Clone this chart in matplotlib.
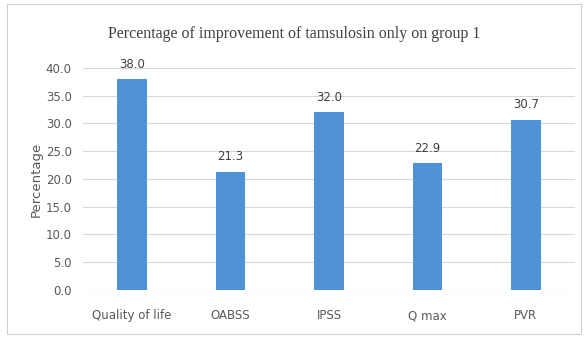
import matplotlib
matplotlib.use("Agg")
import matplotlib.pyplot as plt
from matplotlib.patches import Rectangle

categories = ["Quality of life", "OABSS", "IPSS", "Q max", "PVR"]
values = [38.0, 21.3, 32.0, 22.9, 30.7]
yticks = [0, 5, 10, 15, 20, 25, 30, 35, 40]

BAR = "#4f92d8"
GRID = "#d9d9d9"
TEXT = "#595959"

fig = plt.figure(figsize=(5.88, 3.38), dpi=100)
fig.patch.set_facecolor("white")
ax = fig.add_axes([0.141, 0.142, 0.837, 0.657])

x = range(len(categories))
ax.bar(x, values, width=0.3, color=BAR, zorder=3)
for xi, v in zip(x, values):
    ax.annotate(f"{v:.1f}", (xi, v), xytext=(0, 6), textcoords="offset points",
                ha="center", va="bottom", fontsize=8.5, color="#404040")

ax.set_xlim(-0.5, len(categories) - 0.5)
ax.set_ylim(0, 40)
ax.set_yticks(yticks)
ax.set_yticklabels([f"{t:.1f}" for t in yticks])
ax.set_xticks(list(x))
ax.set_xticklabels(categories)
ax.tick_params(axis="both", length=0, labelsize=8.5, colors=TEXT)
ax.tick_params(axis="x", pad=14)
ax.tick_params(axis="y", pad=8)
ax.yaxis.grid(True, color=GRID, linewidth=0.8, zorder=0)
for s in ax.spines.values():
    s.set_visible(False)
ax.axhline(0, color=GRID, linewidth=0.8, zorder=1)

ax.set_ylabel("Percentage", fontsize=9.5, color=TEXT, labelpad=2)

fig.text(0.5, 0.9, "Percentage of improvement of tamsulosin only on group 1",
         ha="center", va="center", fontsize=11.5, family="Liberation Serif",
         color="#404040")

fig.patches.append(Rectangle((0.012, 0.012), 0.976, 0.976, transform=fig.transFigure,
                             fill=False, edgecolor="#d0d0d0", linewidth=0.8))

fig.savefig("out.png", dpi=100)
